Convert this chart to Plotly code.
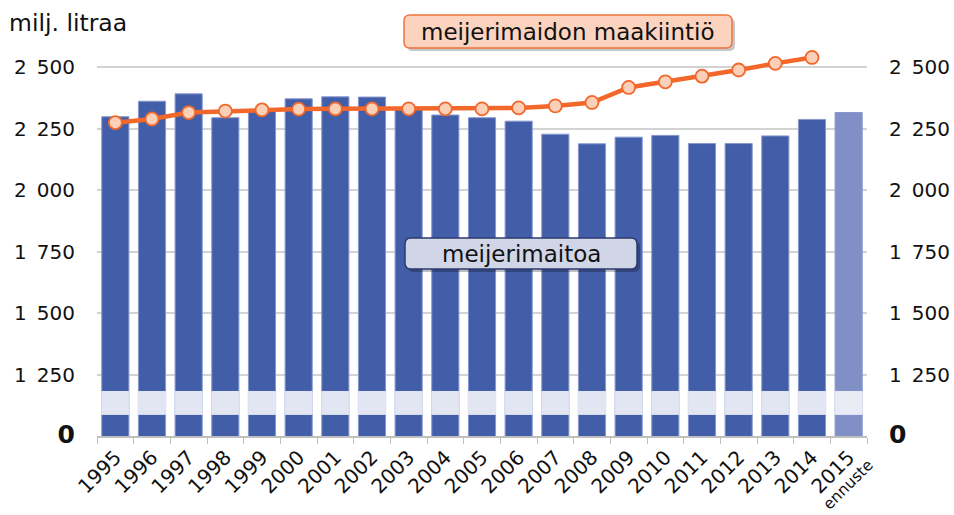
import plotly.graph_objects as go

years = [str(y) for y in range(1995, 2016)]
year_labels = years
forecast_note = "ennuste"
milk = [2298, 2361, 2391, 2294, 2325, 2371, 2379, 2378, 2328, 2305, 2294,
        2280, 2227, 2188, 2215, 2222, 2189, 2189, 2220, 2287, 2315]
quota_years = years[:-1]
quota = [2274, 2289, 2315, 2321, 2326, 2329, 2330, 2330, 2330, 2330, 2330,
         2334, 2342, 2356, 2417, 2440, 2463, 2488, 2515, 2539]
ytick_vals = [1000, 1250, 1500, 1750, 2000, 2250, 2500]
ytick_text = ["<b style='font-size:25px'>0</b>", "1\u2002250", "1\u2002500", "1\u2002750",
              "2\u2002000", "2\u2002250", "2\u2002500"]
break_low, break_high = 1088, 1181

W, H = 954, 515
L, R, T, B = 97, 87, 40, 79
PW, PH = W - L - R, H - T - B

def px(x):
    return (x - L) / PW

def py(y):
    return (H - B - y) / PH

def rounded_rect(x0, y0, x1, y1, r):
    a, b, c, d = px(x0), px(x1), py(y0), py(y1)
    rx, ry = r / PW, r / PH
    return (f"M {a+rx},{c} L {b-rx},{c} Q {b},{c} {b},{c-ry} L {b},{d+ry} "
            f"Q {b},{d} {b-rx},{d} L {a+rx},{d} Q {a},{d} {a},{d+ry} "
            f"L {a},{c-ry} Q {a},{c} {a+rx},{c} Z")

font = "DejaVu Sans"
bar_colors = ["#435ea8"] * (len(years) - 1) + ["#8090c6"]
band_colors = ["#e2e6f2"] * (len(years) - 1) + ["#e9ebf5"]

fig = go.Figure()
fig.add_trace(go.Bar(x=years, y=milk, marker=dict(color=bar_colors, line=dict(color="#8797cf", width=1)),
                     hoverinfo="skip", showlegend=False))
fig.add_trace(go.Bar(x=years, y=[break_high - break_low] * len(years), base=[break_low] * len(years),
                     marker=dict(color=band_colors, line=dict(color=band_colors, width=1)),
                     hoverinfo="skip", showlegend=False))
fig.add_trace(go.Scatter(x=quota_years, y=quota, mode="lines+markers",
                         line=dict(color="#f2672a", width=4.5),
                         marker=dict(size=13, color="#fbd0b9", line=dict(color="#f2672a", width=1.8)),
                         showlegend=False))
fig.add_trace(go.Scatter(x=quota_years, y=quota, yaxis="y2", mode="markers",
                         marker=dict(opacity=0), hoverinfo="skip", showlegend=False))

shapes = [
    dict(type="path", xref="paper", yref="paper", path=rounded_rect(407, 18, 735, 51, 6),
         fillcolor="rgba(0,0,0,0.22)", line=dict(width=0)),
    dict(type="path", xref="paper", yref="paper", path=rounded_rect(404, 15, 732, 48, 6),
         fillcolor="#fbd3be", line=dict(color="#f0743c", width=1.5)),
    dict(type="path", xref="paper", yref="paper", path=rounded_rect(408, 241, 640, 272, 6),
         fillcolor="rgba(0,0,0,0.25)", line=dict(width=0)),
    dict(type="path", xref="paper", yref="paper", path=rounded_rect(405, 238, 637, 269, 6),
         fillcolor="#d0d5e8", line=dict(color="#2e3a6e", width=1.5)),
]

annotations = [
    dict(text="milj. litraa", x=px(7), y=py(23), xref="paper", yref="paper", xanchor="left",
         yanchor="middle", showarrow=False, font=dict(family=font, size=23.5, color="#111")),
    dict(text="meijerimaidon maakiintiö", x=px(568), y=py(31.5), xref="paper", yref="paper",
         xanchor="center", yanchor="middle", showarrow=False, font=dict(family=font, size=23, color="#111")),
    dict(text="meijerimaitoa", x=px(521), y=py(253.5), xref="paper", yref="paper",
         xanchor="center", yanchor="middle", showarrow=False, font=dict(family=font, size=23, color="#111")),
    dict(text=forecast_note, x=px(848), y=py(485), xref="paper", yref="paper", textangle=-45,
         xanchor="center", yanchor="middle", showarrow=False, borderpad=0,
         font=dict(family=font, size=15.5, color="#111")),
]

yaxis_common = dict(range=[1000, 2610], tickvals=ytick_vals, ticktext=ytick_text,
                    tickfont=dict(family=font, size=20, color="#111"), ticks="",
                    ticklabelstandoff=21, zeroline=False, fixedrange=True)

fig.update_layout(
    width=W, height=H, margin=dict(l=L, r=R, t=T, b=B, autoexpand=False),
    paper_bgcolor="white", plot_bgcolor="white",
    barmode="overlay", bargap=0.26,
    font=dict(family=font, size=20, color="#111"),
    xaxis=dict(type="category", tickvals=years, ticktext=year_labels, tickangle=-45,
               tickfont=dict(family=font, size=20, color="#111"),
               ticks="outside", tickson="boundaries", ticklen=6, tickcolor="#bfbfbf",
               showline=True, linecolor="#bfbfbf", linewidth=1.5, showgrid=False,
               range=[-0.5, len(years) - 0.5], fixedrange=True),
    yaxis=dict(showgrid=True, gridcolor="#d3d3d3", gridwidth=1.5, **yaxis_common),
    yaxis2=dict(overlaying="y", side="right", showgrid=False, **yaxis_common),
    shapes=shapes, annotations=annotations,
)

fig.write_html("out.html", config={"displayModeBar": False},
               post_script="document.body.style.margin='0';document.body.style.overflow='hidden';")
